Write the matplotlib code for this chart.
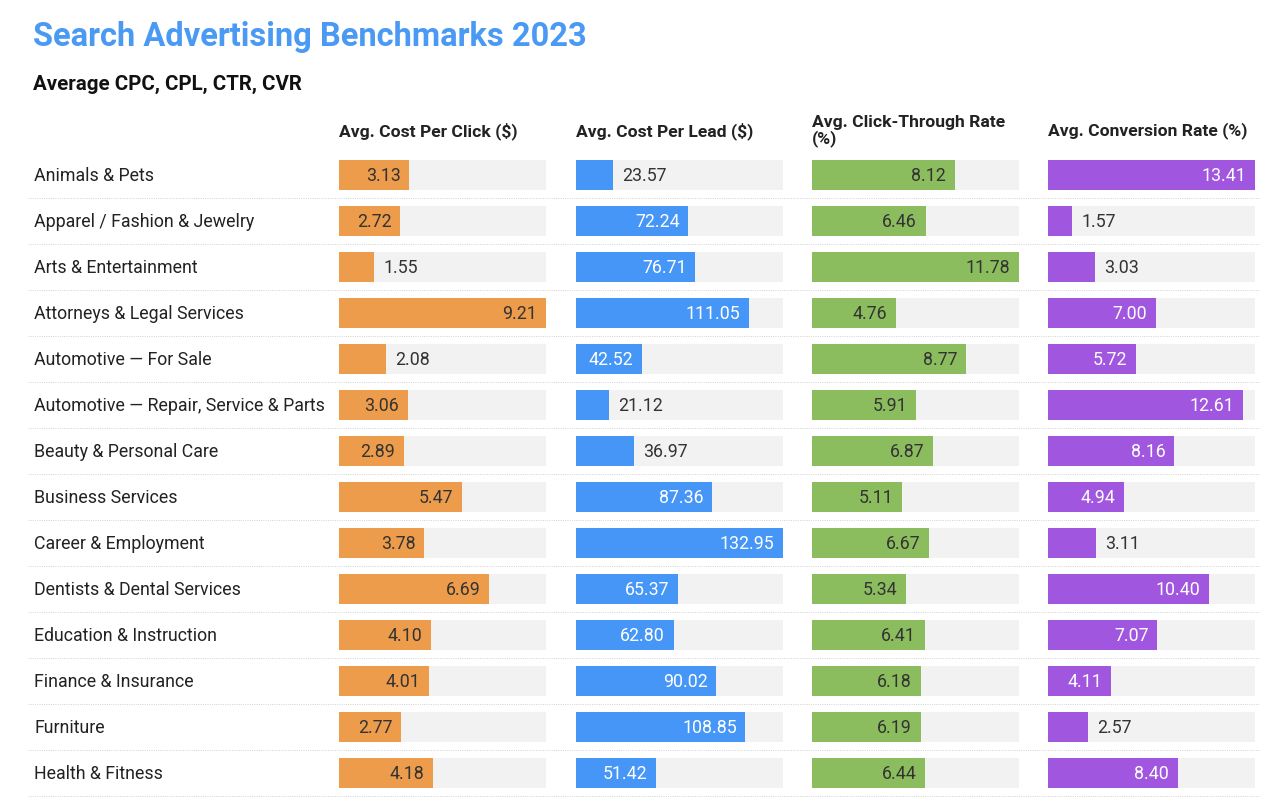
import matplotlib
matplotlib.use("Agg")
import matplotlib.pyplot as plt

plt.rcParams['font.family'] = ['Roboto', 'DejaVu Sans']

categories = [
    "Animals & Pets",
    "Apparel / Fashion & Jewelry",
    "Arts & Entertainment",
    "Attorneys & Legal Services",
    "Automotive \u2014 For Sale",
    "Automotive \u2014 Repair, Service & Parts",
    "Beauty & Personal Care",
    "Business Services",
    "Career & Employment",
    "Dentists & Dental Services",
    "Education & Instruction",
    "Finance & Insurance",
    "Furniture",
    "Health & Fitness",
]

cpc = [3.13, 2.72, 1.55, 9.21, 2.08, 3.06, 2.89, 5.47, 3.78, 6.69, 4.10, 4.01, 2.77, 4.18]
cpl = [23.57, 72.24, 76.71, 111.05, 42.52, 21.12, 36.97, 87.36, 132.95, 65.37, 62.80, 90.02, 108.85, 51.42]
ctr = [8.12, 6.46, 11.78, 4.76, 8.77, 5.91, 6.87, 5.11, 6.67, 5.34, 6.41, 6.18, 6.19, 6.44]
cvr = [13.41, 1.57, 3.03, 7.00, 5.72, 12.61, 8.16, 4.94, 3.11, 10.40, 7.07, 4.11, 2.57, 8.40]

headers = ["Avg. Cost Per Click ($)", "Avg. Cost Per Lead ($)",
           "Avg. Click-Through Rate\n(%)", "Avg. Conversion Rate (%)"]
series = [cpc, cpl, ctr, cvr]
bar_colors = ["#EC9C4A", "#4596F6", "#8BBD5F", "#A056DF"]
inside_text = ["#333333", "#ffffff", "#333333", "#ffffff"]

W, H = 1280, 801
fig = plt.figure(figsize=(W / 100, H / 100), dpi=100)

n = len(categories)
row_h = 46
top = 152
bottom = top + n * row_h
col_x = [339, 576, 812, 1048]
col_w = 207
dy = 0.025  # nudge row text down ~1px

# background axes for row labels and dotted separators
bg = fig.add_axes([0, 1 - bottom / H, 1, (bottom - top) / H])
bg.set_xlim(0, W)
bg.set_ylim(n - 0.5, -0.5)
bg.axis("off")
for i, name in enumerate(categories):
    bg.text(34, i + dy, name, ha="left", va="center", fontsize=12.8, color="#222222")
    bg.plot([28, 1260], [i + 0.5, i + 0.5], color="#d2d2d2", lw=0.7,
            ls=(0, (1, 1.3)), clip_on=False)

for k, vals in enumerate(series):
    vmax = max(vals)
    ax = fig.add_axes([col_x[k] / W, 1 - bottom / H, col_w / W, (bottom - top) / H])
    ax.set_xlim(0, vmax)
    ax.set_ylim(n - 0.5, -0.5)
    ax.axis("off")
    ys = list(range(n))
    ax.barh(ys, [vmax] * n, height=0.65, color="#F2F2F2")
    ax.barh(ys, vals, height=0.65, color=bar_colors[k])
    for i, v in enumerate(vals):
        if v / vmax > 0.285:
            ax.text(v - vmax * 0.042, i + dy, f"{v:.2f}", ha="right", va="center",
                    fontsize=12.8, color=inside_text[k])
        else:
            ax.text(v + vmax * 0.045, i + dy, f"{v:.2f}", ha="left", va="center",
                    fontsize=12.8, color="#333333")
    fig.text(col_x[k] / W, 1 - 131 / H, headers[k], ha="left", va="center",
             fontsize=12.6, fontweight="bold", color="#222222", linespacing=1.0)

fig.text(33 / W, 1 - 37 / H, "Search Advertising Benchmarks 2023", ha="left",
         va="center", fontsize=23.5, fontweight="bold", color="#4A9AF4")
fig.text(33 / W, 1 - 84 / H, "Average CPC, CPL, CTR, CVR", ha="left",
         va="center", fontsize=14.8, fontweight="bold", color="#111111")

fig.savefig("out.png", dpi=100, facecolor="white")
